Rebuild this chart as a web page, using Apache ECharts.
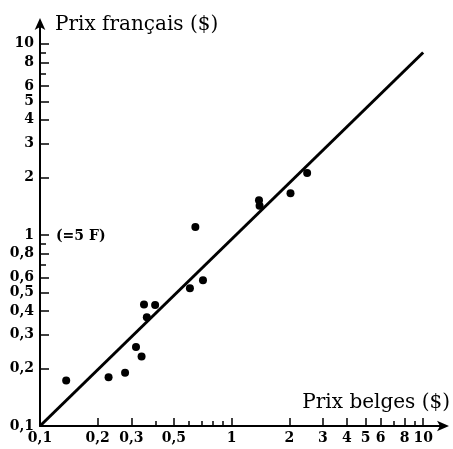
<!DOCTYPE html>
<html>
<head>
<meta charset="utf-8">
<script src="https://cdn.jsdelivr.net/npm/echarts@6/dist/echarts.min.js"></script>
<style>
  html, body { margin: 0; padding: 0; background: #fff; }
  #chart { width: 453px; height: 449px; }
</style>
</head>
<body>
<div id="chart"></div>
<script>
// Belgian vs French prices (dollars), log-log scatter with fitted line
const belgianPrices = [0.137, 0.228, 0.278, 0.317, 0.339, 0.349, 0.399, 0.361, 0.647, 0.709, 0.606, 1.39, 1.40, 2.03, 2.48];
const frenchPrices  = [0.173, 0.180, 0.190, 0.259, 0.231, 0.432, 0.430, 0.371, 1.10, 0.579, 0.526, 1.52, 1.42, 1.65, 2.11];

// Regression line end points
const fitLineX = [0.1, 10];
const fitLineY = [0.1, 9];

// Axis ticks
const xLabelTicks = [0.1, 0.2, 0.3, 0.5, 1, 2, 3, 4, 5, 6, 8, 10];
const xMinorTicks = [0.4, 0.6, 0.7, 0.8, 0.9, 7, 9];
const yLabelTicks = [0.1, 0.2, 0.3, 0.4, 0.5, 0.6, 0.8, 1, 2, 3, 4, 5, 6, 8, 10];
const yMinorTicks = [0.7, 0.9, 7, 9];

const xTitle = 'Prix belges ($)';
const yTitle = 'Prix français ($)';
const unitNote = '(=5 F)';

const AXIS_MIN = 0.1, AXIS_MAX = 13;
const FONT = 'DejaVu Serif';
const fmt = v => String(+v.toPrecision(3)).replace('.', ',');

const scatterData = belgianPrices.map((x, i) => [x, frenchPrices[i]]);
const lineData = fitLineX.map((x, i) => [x, fitLineY[i]]);

const chart = echarts.init(document.getElementById('chart'), null, { renderer: 'canvas' });

const baseAxis = {
  type: 'log',
  logBase: 10,
  min: AXIS_MIN,
  max: AXIS_MAX,
  splitLine: { show: false },
  minorTick: { show: false },
  minorSplitLine: { show: false }
};

const labelStyle = { color: '#000', fontFamily: FONT, fontSize: 14, fontWeight: 'bold' };
const titleStyle = { color: '#000', fontFamily: FONT, fontSize: 20, fontWeight: 'normal' };

chart.setOption({
  animation: false,
  backgroundColor: '#fff',
  grid: { left: 40, right: 8, top: 22, bottom: 23, containLabel: false },
  xAxis: [
    Object.assign({}, baseAxis, {
      position: 'bottom',
      axisLine: { show: true, lineStyle: { color: '#000', width: 2 }, symbol: ['none', 'arrow'], symbolSize: [8, 12], symbolOffset: [0, 4] },
      axisTick: { show: true, inside: true, length: 8, lineStyle: { color: '#000', width: 1.5 }, customValues: xLabelTicks },
      axisLabel: Object.assign({ show: true, customValues: xLabelTicks, formatter: fmt, margin: 5 }, labelStyle),
      name: xTitle,
      nameLocation: 'end',
      nameGap: 5,
      nameTextStyle: Object.assign({ align: 'right', verticalAlign: 'bottom', padding: [0, 0, 13, 0] }, titleStyle)
    }),
    Object.assign({}, baseAxis, {
      position: 'bottom',
      axisLine: { show: false },
      axisTick: { show: true, inside: true, length: 5, lineStyle: { color: '#000', width: 1.5 }, customValues: xMinorTicks },
      axisLabel: { show: false }
    })
  ],
  yAxis: [
    Object.assign({}, baseAxis, {
      position: 'left',
      axisLine: { show: true, lineStyle: { color: '#000', width: 2 }, symbol: ['none', 'arrow'], symbolSize: [8, 12], symbolOffset: [0, 4] },
      axisTick: { show: true, inside: true, length: 9, lineStyle: { color: '#000', width: 1.5 }, customValues: yLabelTicks },
      axisLabel: Object.assign({ show: true, customValues: yLabelTicks, formatter: fmt, margin: 6 }, labelStyle),
      name: yTitle,
      nameLocation: 'end',
      nameGap: -3,
      nameTextStyle: Object.assign({ align: 'left', verticalAlign: 'middle', padding: [0, 0, 0, 15] }, titleStyle)
    }),
    Object.assign({}, baseAxis, {
      position: 'left',
      axisLine: { show: false },
      axisTick: { show: true, inside: true, length: 6, lineStyle: { color: '#000', width: 1.5 }, customValues: yMinorTicks },
      axisLabel: { show: false }
    })
  ],
  series: [
    {
      type: 'line',
      data: lineData,
      showSymbol: false,
      symbol: 'none',
      lineStyle: { color: '#000', width: 3 },
      silent: true,
      markPoint: {
        symbol: 'circle',
        symbolSize: 0,
        data: [{ coord: [AXIS_MIN, 1], value: unitNote }],
        label: Object.assign({ show: true, position: 'right', distance: 0, offset: [16, 1], formatter: unitNote }, labelStyle)
      }
    },
    {
      type: 'scatter',
      data: scatterData,
      symbol: 'circle',
      symbolSize: 8,
      itemStyle: { color: '#000', opacity: 1 }
    }
  ]
});
</script>
</body>
</html>
